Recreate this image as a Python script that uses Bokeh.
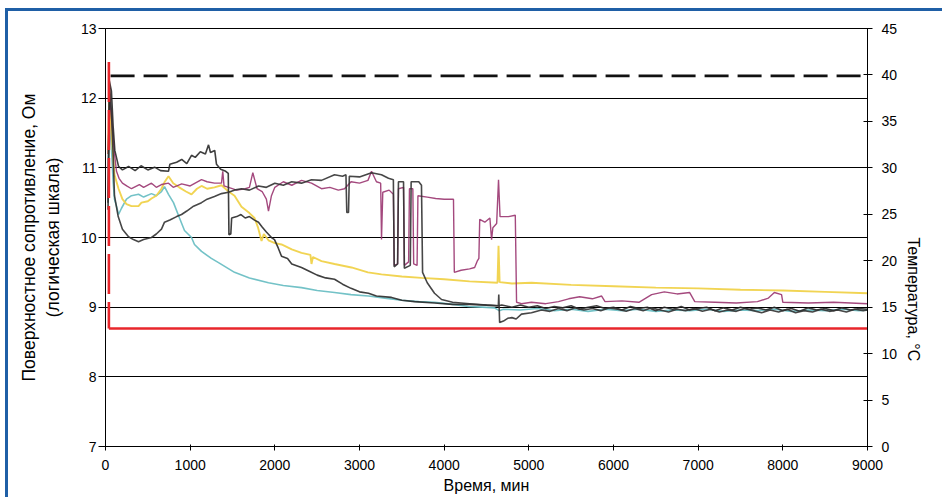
import math
from bokeh.plotting import figure
from bokeh.models import Range1d, LinearAxis, FixedTicker
from bokeh.embed import file_html
from bokeh.resources import INLINE

# ---------------- data ----------------
X_TICKS = [0, 1000, 2000, 3000, 4000, 5000, 6000, 7000, 8000, 9000]
Y_TICKS = [7, 8, 9, 10, 11, 12, 13]
T_TICKS = [0, 5, 10, 15, 20, 25, 30, 35, 40, 45]

X_LABEL = "Время, мин"
Y_LABEL = "Поверхностное сопротивление, Ом\n(логическая шкала)"
T_LABEL = "Температура, °C"

BLACK_A_T = [30, 45, 70, 90, 110, 154, 200, 272, 350, 420,
             500, 580, 650, 744, 760, 840, 900, 960, 1016, 1060,
             1120, 1180, 1217, 1240, 1290, 1311, 1360, 1420, 1450, 1458,
             1480, 1490, 1550, 1600, 1650, 1700, 1760, 1807, 1850, 1900,
             1960, 1996, 2040, 2079, 2150, 2200, 2315, 2400, 2500, 2600,
             2705, 2800, 2900, 3000, 3106, 3200, 3378, 3500, 3650, 3886,
             4100, 4300, 4500, 4640, 4680, 4800, 4900, 5000, 5100, 5200,
             5300, 5400, 5500, 5600, 5700, 5800, 5900, 6000, 6100, 6200,
             6300, 6400, 6500, 6600, 6700, 6800, 6900, 7000, 7100, 7200,
             7300, 7400, 7500, 7600, 7700, 7800, 7900, 8000, 8100, 8200,
             8300, 8400, 8500, 8600, 8700, 8800, 8900, 9000]
BLACK_A_R = [10.4, 12.25, 12.1, 11.6, 11.25, 11.02, 10.97, 11.02, 10.96, 11.03,
             10.97, 11.01, 10.96, 10.95, 11.05, 11.08, 11.12, 11.06, 11.18, 11.15,
             11.23, 11.2, 11.33, 11.22, 11.25, 11.05, 10.98, 10.95, 10.92, 10.04,
             10.05, 10.28, 10.3, 10.33, 10.28, 10.3, 10.25, 10.22, 10.15, 10.08,
             10.0, 9.97, 9.85, 9.73, 9.7, 9.62, 9.57, 9.52, 9.46, 9.42,
             9.4, 9.33, 9.27, 9.22, 9.2, 9.16, 9.14, 9.1, 9.08, 9.06,
             9.04, 9.04, 9.03, 9.02, 9.03, 9.0, 9.03, 9.0, 9.02, 8.98,
             9.01, 8.99, 9.02, 8.97, 9.0, 9.02, 8.98, 9.0, 8.96, 9.01,
             8.98, 9.0, 8.95, 9.0, 8.97, 9.01, 8.96, 8.98, 9.0, 8.95,
             8.99, 8.96, 9.0, 8.97, 8.99, 8.96, 9.0, 8.95, 8.98, 8.94,
             8.99, 8.96, 8.98, 8.95, 8.99, 8.96, 8.98, 8.97]

BLACK_B_T = [30, 50, 70, 90, 106, 150, 200, 272, 330, 390,
             450, 543, 600, 661, 697, 760, 840, 898, 960, 1040,
             1134, 1200, 1287, 1370, 1453, 1520, 1606, 1700, 1807, 1900,
             2000, 2100, 2200, 2315, 2433, 2551, 2705, 2800, 2840, 2850,
             2870, 2880, 3000, 3142, 3260, 3342, 3400, 3410, 3450, 3460,
             3520, 3530, 3600, 3610, 3700, 3732, 3745, 3800, 3886, 3969,
             4100, 4300, 4500, 4640, 4645, 4655, 4700, 4750, 4800, 4850,
             4913, 5031, 5150, 5250, 5350, 5450, 5550, 5650, 5750, 5850,
             5950, 6050, 6150, 6250, 6350, 6450, 6550, 6650, 6750, 6850,
             6950, 7050, 7150, 7250, 7350, 7450, 7550, 7650, 7750, 7850,
             7950, 8050, 8150, 8250, 8350, 8450, 8550, 8650, 8750, 8850,
             8950, 9000]
BLACK_B_R = [10.5, 12.15, 11.8, 11.2, 10.6, 10.3, 10.12, 10.01, 9.97, 9.94,
             9.97, 10.0, 10.05, 10.12, 10.22, 10.25, 10.3, 10.33, 10.38, 10.45,
             10.5, 10.55, 10.59, 10.63, 10.65, 10.68, 10.7, 10.68, 10.74, 10.72,
             10.78, 10.75, 10.8, 10.78, 10.83, 10.82, 10.9, 10.88, 10.9, 10.36,
             10.36, 10.88, 10.87, 10.93, 10.9, 10.85, 10.83, 9.58, 9.62, 10.8,
             10.8, 9.56, 9.6, 10.8, 10.8, 10.75, 9.5, 9.35, 9.2, 9.11,
             9.07, 9.05, 9.03, 9.02, 9.18, 8.78, 8.8, 8.84, 8.85, 8.83,
             8.9, 8.92, 8.96, 8.94, 8.98, 8.95, 8.99, 8.96, 8.98, 8.95,
             8.99, 8.97, 8.94, 8.98, 8.95, 8.99, 8.96, 8.93, 8.97, 8.95,
             8.98, 8.94, 8.97, 8.93, 8.96, 8.94, 8.98, 8.95, 8.92, 8.96,
             8.93, 8.97, 8.92, 8.95, 8.93, 8.97, 8.94, 8.96, 8.93, 8.97,
             8.95, 8.96]

MAGENTA_T = [30, 50, 80, 106, 130, 160, 200, 250, 307, 400,
             450, 543, 600, 661, 744, 800, 900, 1000, 1134, 1200,
             1287, 1370, 1385, 1400, 1453, 1550, 1650, 1700, 1740, 1790,
             1850, 1900, 1925, 1960, 2000, 2100, 2200, 2315, 2433, 2551,
             2650, 2750, 2823, 2900, 3000, 3100, 3142, 3200, 3250, 3260,
             3275, 3350, 3400, 3410, 3450, 3460, 3520, 3530, 3580, 3590,
             3630, 3640, 3680, 3690, 3800, 3900, 4000, 4110, 4120, 4200,
             4300, 4360, 4390, 4410, 4420, 4480, 4540, 4560, 4575, 4620,
             4642, 4660, 4760, 4840, 4855, 4913, 5031, 5200, 5350, 5470,
             5600, 5750, 5860, 5900, 6100, 6300, 6450, 6600, 6750, 6900,
             6960, 7200, 7450, 7700, 7830, 7900, 7985, 8000, 8300, 8600,
             9000]
MAGENTA_R = [11.2, 12.0, 11.6, 11.2, 10.95, 10.85, 10.78, 10.74, 10.7, 10.76,
             10.72, 10.78, 10.72, 10.76, 10.78, 10.72, 10.77, 10.74, 10.83, 10.8,
             10.78, 10.78, 10.95, 10.74, 10.72, 10.68, 10.7, 10.72, 10.93, 10.7,
             10.66, 10.55, 10.38, 10.6, 10.72, 10.8, 10.75, 10.82, 10.78, 10.7,
             10.72, 10.68, 10.7, 10.8, 10.78, 10.82, 10.95, 10.8, 10.78, 9.97,
             10.65, 10.68, 10.62, 9.6, 9.62, 10.7, 10.72, 9.6, 9.65, 10.7,
             10.7, 9.62, 9.6, 10.6, 10.58, 10.56, 10.55, 10.55, 9.5, 9.53,
             9.55, 9.57, 9.66, 9.7, 10.26, 10.22, 10.28, 9.97, 10.14, 10.2,
             10.83, 10.3, 10.3, 10.32, 9.07, 9.05, 9.07, 9.05, 9.08, 9.12,
             9.15, 9.12, 9.16, 9.08, 9.09, 9.07, 9.18, 9.22, 9.19, 9.21,
             9.08, 9.07, 9.06, 9.08, 9.13, 9.21, 9.18, 9.07, 9.06, 9.07,
             9.05]

YELLOW_T = [30, 45, 70, 106, 154, 200, 248, 307, 390, 425,
            500, 543, 600, 661, 700, 744, 800, 870, 950, 1016,
            1080, 1134, 1200, 1287, 1370, 1453, 1524, 1606, 1700, 1760,
            1800, 1843, 1870, 1925, 2000, 2079, 2200, 2315, 2420, 2433,
            2450, 2551, 2705, 2905, 3100, 3260, 3500, 3732, 4000, 4300,
            4630, 4642, 4655, 4800, 5031, 5500, 6000, 6500, 7000, 7500,
            8000, 8500, 9000]
YELLOW_R = [11.2, 12.0, 11.5, 10.9, 10.7, 10.55, 10.48, 10.45, 10.45, 10.5,
            10.52, 10.56, 10.6, 10.7, 10.8, 10.88, 10.78, 10.72, 10.66, 10.62,
            10.7, 10.74, 10.7, 10.72, 10.75, 10.66, 10.6, 10.44, 10.35, 10.28,
            10.15, 9.95, 10.05, 9.96, 9.92, 9.9, 9.83, 9.78, 9.75, 9.62,
            9.72, 9.66, 9.62, 9.57, 9.5, 9.47, 9.44, 9.42, 9.4, 9.37,
            9.35, 9.88, 9.36, 9.34, 9.35, 9.32, 9.3, 9.28, 9.27, 9.25,
            9.24, 9.22, 9.2]

CYAN_T = [30, 45, 70, 90, 106, 130, 154, 189, 248, 307,
          390, 450, 543, 600, 661, 697, 744, 803, 874, 933,
          1016, 1051, 1134, 1250, 1335, 1524, 1700, 1925, 2100, 2315,
          2500, 2705, 2900, 3106, 3300, 3496, 3700, 3886, 4100, 4287,
          4450, 4594, 4650, 4700, 4900, 5100, 5300, 5500, 5700, 5900,
          6100, 6300, 6500, 6700, 6900, 7100, 7300, 7500, 7700, 7900,
          8100, 8300, 8500, 8700, 8900, 9000]
CYAN_R = [11.0, 11.7, 11.3, 10.8, 10.55, 10.45, 10.33, 10.42, 10.55, 10.6,
          10.62, 10.58, 10.63, 10.6, 10.66, 10.73, 10.62, 10.5, 10.28, 10.1,
          10.0, 9.9, 9.8, 9.7, 9.64, 9.5, 9.42, 9.35, 9.31, 9.28,
          9.24, 9.21, 9.18, 9.16, 9.13, 9.1, 9.08, 9.07, 9.04, 9.01,
          9.0, 8.99, 8.95, 8.97, 8.96, 8.98, 8.95, 8.97, 8.94, 8.97,
          8.95, 8.97, 8.94, 8.96, 8.95, 8.97, 8.94, 8.96, 8.95, 8.97,
          8.94, 8.96, 8.95, 8.97, 8.95, 8.96]

# temperature series (right axis, °C)
RED_TIME = [40, 40, 9000]
RED_TEMP = [41.4, 12.7, 12.7]
BLACK_TEMP_TIME = [60, 9000]
BLACK_TEMP = [39.9, 39.9]

for a, b in [(BLACK_A_T, BLACK_A_R), (BLACK_B_T, BLACK_B_R), (MAGENTA_T, MAGENTA_R),
             (YELLOW_T, YELLOW_R), (CYAN_T, CYAN_R)]:
    assert len(a) == len(b), (len(a), len(b))

# ---------------- figure ----------------
FONT = "Liberation Sans"
BLUE = "#1f5fa6"

p = figure(width=939, height=489, output_backend="svg", toolbar_location=None,
           x_range=Range1d(0, 9000), y_range=Range1d(7, 13),
           min_border_left=97, min_border_right=80, min_border_top=17, min_border_bottom=54)
# blue page frame on the left and top edges only
p.styles = {"margin-left": "8px", "margin-top": "11px",
            "box-shadow": f"-3px -3px 0px 0px {BLUE}",
            "clip-path": "inset(-3px 5px 0px -3px)"}
p.background_fill_color = "white"
p.border_fill_color = "white"
p.outline_line_color = "black"
p.outline_line_width = 1
p.extra_y_ranges = {"temp": Range1d(0, 45)}

p.xgrid.visible = False
p.ygrid.ticker = FixedTicker(ticks=Y_TICKS)
p.ygrid.grid_line_color = "black"
p.ygrid.grid_line_width = 1.2

# bottom axis
xa = p.xaxis[0]
xa.ticker = FixedTicker(ticks=X_TICKS)
xa.axis_label = X_LABEL
xa.major_tick_in = 2
xa.major_tick_out = 4
xa.major_label_standoff = 9
xa.axis_label_standoff = 4

# left axis
ya = p.yaxis[0]
ya.ticker = FixedTicker(ticks=Y_TICKS)
ya.axis_label = Y_LABEL
ya.major_tick_in = 0
ya.major_tick_out = 7
ya.major_label_standoff = 2
ya.axis_label_standoff = 15

# right axis; its title reads bottom-to-top
ra = LinearAxis(y_range_name="temp", ticker=FixedTicker(ticks=T_TICKS), axis_label=T_LABEL)
ra.major_tick_in = 4
ra.major_tick_out = 5
ra.major_label_standoff = 9
ra.axis_label_standoff = 13
ra.axis_label_orientation = 3 * math.pi / 2
p.add_layout(ra, "right")

for ax in [xa, ya, ra]:
    ax.minor_tick_line_color = None
    ax.axis_line_color = "black"
    ax.major_tick_line_color = "black"
    ax.major_label_text_font = FONT
    ax.major_label_text_font_size = "14px"
    ax.major_label_text_color = "black"
    ax.axis_label_text_font = FONT
    ax.axis_label_text_font_size = "16px"
    ax.axis_label_text_font_style = "normal"
    ax.axis_label_text_color = "black"
ya.axis_label_text_font_size = "17.5px"

# resistance curves
p.line(CYAN_T, CYAN_R, line_color="#6bbfc4", line_width=1.6, line_alpha=0.95)
p.line(YELLOW_T, YELLOW_R, line_color="#f0d24a", line_width=1.9, line_alpha=0.95)
p.line(MAGENTA_T, MAGENTA_R, line_color="#9a3570", line_width=1.4, line_alpha=0.9)
p.line(BLACK_A_T, BLACK_A_R, line_color="#2a2a2a", line_width=1.6, line_alpha=0.9)
p.line(BLACK_B_T, BLACK_B_R, line_color="#333333", line_width=1.6, line_alpha=0.9)

# temperature curves
p.line(BLACK_TEMP_TIME, BLACK_TEMP, y_range_name="temp", line_color="#111111",
       line_width=2.6, line_dash="24 9")
p.line(RED_TIME[:2], RED_TEMP[:2], y_range_name="temp", line_color="#e8262b",
       line_width=2.6, line_dash="40 8")
p.line(RED_TIME[1:], RED_TEMP[1:], y_range_name="temp", line_color="#e8262b",
       line_width=2.6)

open("out.html", "w").write(file_html(p, INLINE))
